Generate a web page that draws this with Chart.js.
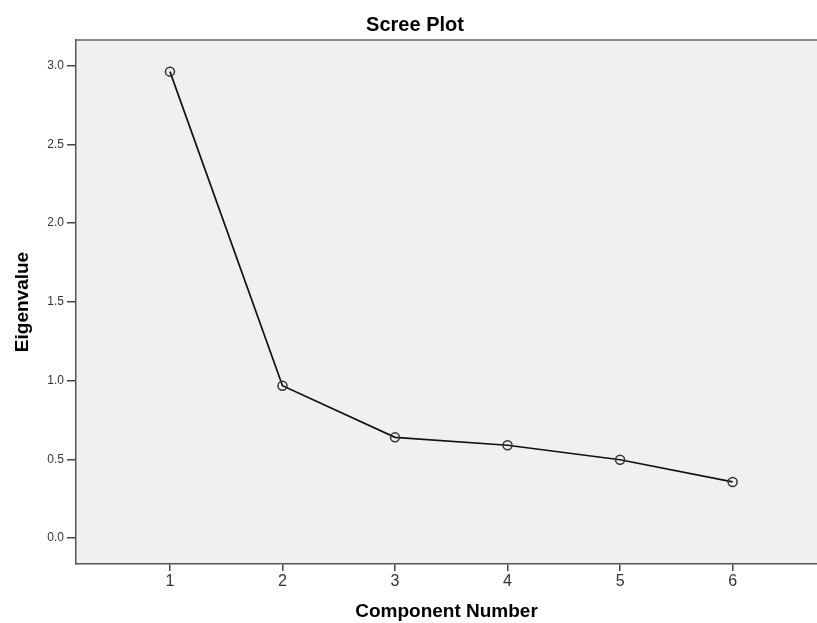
<!DOCTYPE html>
<html>
<head>
<meta charset="utf-8">
<title>Scree Plot</title>
<script src="https://cdn.jsdelivr.net/npm/chart.js@4/dist/chart.umd.min.js"></script>
<style>
    html, body { margin: 0; padding: 0; background: #fff; }
</style>
</head>
<body>
<canvas id="mycanvas" width="817" height="623"></canvas>
<script>
// Data
var components = [1, 2, 3, 4, 5, 6];
var eigenvalues = [2.961, 0.967, 0.639, 0.589, 0.497, 0.356];
var xTicks = [1, 2, 3, 4, 5, 6];
var yTicks = [0.0, 0.5, 1.0, 1.5, 2.0, 2.5, 3.0];
var chartTitle = 'Scree Plot';

var points = [];
for (var i in components) {
    points.push({ x: components[i], y: eigenvalues[i] });
}

var font = "'Liberation Sans', Arial, sans-serif";

// grey plot background, top frame line and the title
var plotBg = {
    id: 'plotBg',
    beforeDraw: function (chart) {
        var ctx = chart.ctx;
        var a = chart.chartArea;
        ctx.save();
        ctx.fillStyle = '#ffffff';
        ctx.fillRect(0, 0, chart.width, chart.height);
        ctx.fillStyle = '#f0f0f0';
        ctx.fillRect(a.left, a.top, a.right - a.left, a.bottom - a.top);
        ctx.strokeStyle = '#666';
        ctx.lineWidth = 1.5;
        ctx.beginPath();
        ctx.moveTo(a.left, a.top);
        ctx.lineTo(a.right, a.top);
        ctx.stroke();
        // title
        ctx.fillStyle = '#000';
        ctx.font = 'bold 20px ' + font;
        ctx.textAlign = 'center';
        ctx.textBaseline = 'alphabetic';
        ctx.fillText(chartTitle, 415, 30.5);
        ctx.restore();
    }
};

var ctx = document.getElementById('mycanvas');
var screeChart = new Chart(ctx, {
    type: 'scatter',
    data: {
        datasets: [{
            label: 'Eigenvalue',
            data: points,
            showLine: true,
            borderColor: '#111',
            borderWidth: 1.7,
            pointRadius: 4.5,
            pointBorderWidth: 1.5,
            pointBorderColor: '#333',
            pointBackgroundColor: 'rgba(0,0,0,0)',
            pointHoverRadius: 4.5
        }]
    },
    options: {
        responsive: false,
        animation: false,
        layout: { padding: { top: 40, left: 0, right: 0, bottom: 0 }, autoPadding: false },
        plugins: {
            legend: { display: false },
            tooltip: { enabled: false },
            title: { display: false }
        },
        scales: {
            x: {
                type: 'linear',
                min: 0.165,
                max: 6.75,
                afterBuildTicks: function (scale) {
                    scale.ticks = xTicks.map(function (v) { return { value: v }; });
                },
                afterFit: function (scale) {
                    scale.height = 59;
                    scale.paddingLeft = 0;
                    scale.paddingRight = 0;
                },
                ticks: {
                    color: '#333',
                    font: { family: font, size: 16 },
                    padding: 1,
                    maxRotation: 0,
                    callback: function (v) { return v; }
                },
                grid: {
                    drawOnChartArea: false,
                    drawTicks: true,
                    tickLength: 7,
                    color: '#444',
                    lineWidth: 1.5
                },
                border: { display: true, color: '#555', width: 1.5 },
                title: {
                    display: true,
                    text: 'Component Number',
                    color: '#000',
                    font: { family: font, size: 19, weight: 'bold' },
                    padding: { top: 2, bottom: 0 }
                }
            },
            y: {
                type: 'linear',
                min: -0.165,
                max: 3.162,
                afterBuildTicks: function (scale) {
                    scale.ticks = yTicks.map(function (v) { return { value: v }; });
                },
                afterFit: function (scale) { scale.width = 76; },
                ticks: {
                    color: '#333',
                    font: { family: font, size: 12 },
                    padding: 3,
                    callback: function (v) { return Number(v).toFixed(1); }
                },
                grid: {
                    drawOnChartArea: false,
                    drawTicks: true,
                    tickLength: 9,
                    color: '#444',
                    lineWidth: 1.5
                },
                border: { display: true, color: '#555', width: 1.5 },
                title: {
                    display: true,
                    text: 'Eigenvalue',
                    color: '#000',
                    font: { family: font, size: 19, weight: 'bold' },
                    padding: { top: 11, bottom: 2 }
                }
            }
        }
    },
    plugins: [plotBg]
});
</script>
</body>
</html>
